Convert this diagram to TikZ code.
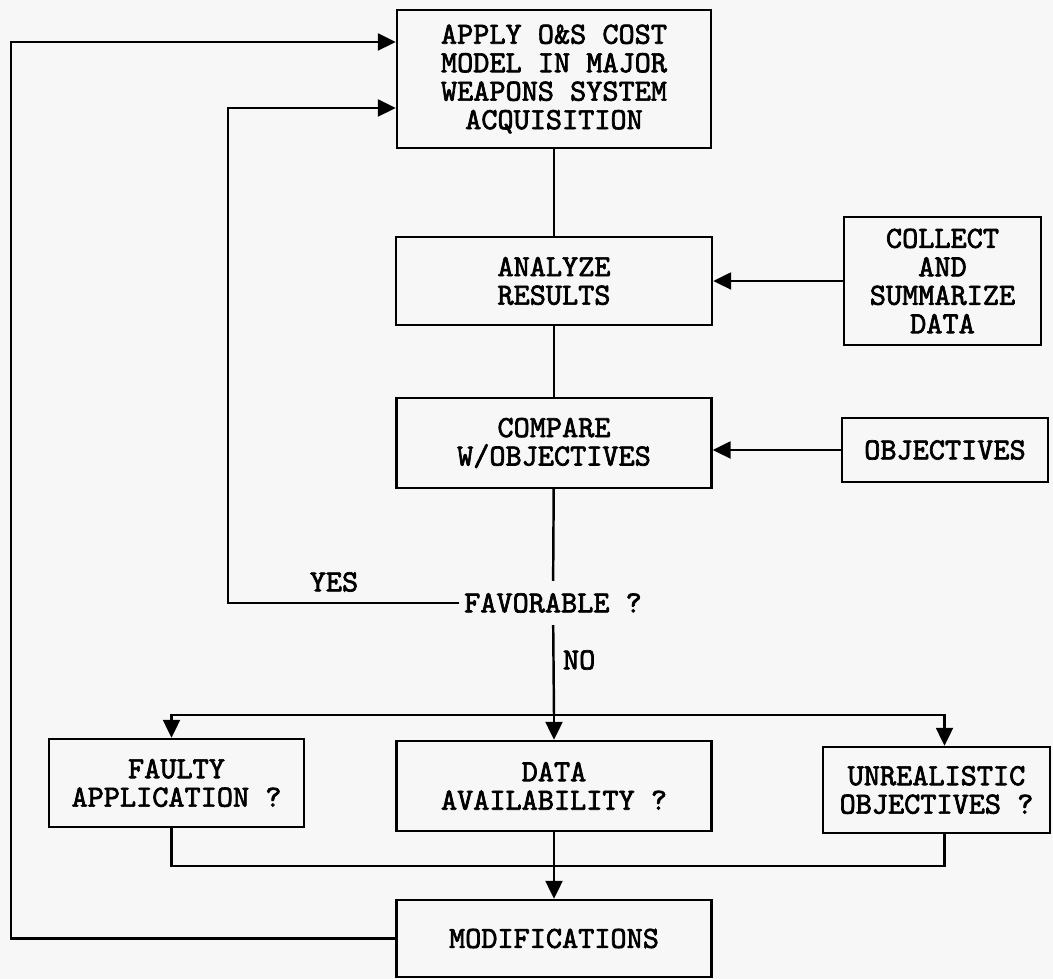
\documentclass[tikz,border=0pt]{standalone}
\usepackage{fontspec}
\setmonofont{lmmono10-regular.otf}[BoldFont=lmmono10-regular.otf,BoldFeatures={FakeBold=2.2}]
\usetikzlibrary{arrows.meta}
\begin{document}
\begin{tikzpicture}[>={Triangle[length=3.6mm,width=3.4mm]}, line width=1.4pt,
  every node/.style={font=\ttfamily\bfseries\fontsize{17.5}{16.2}\selectfont},
  box/.style={draw,align=center,inner sep=2pt}]
\fill[black!3] (0,0) rectangle (21.06,19.58);
\useasboundingbox (0,0) rectangle (21.06,19.58);
% main column
\node[box,minimum width=6.28cm,minimum height=2.76cm] (apply) at (11.08,18.00) {APPLY O\&S COST\\MODEL IN MAJOR\\WEAPONS SYSTEM\\ACQUISITION};
\node[box,minimum width=6.32cm,minimum height=1.76cm] (analyze) at (11.08,13.96) {ANALYZE\\RESULTS};
\node[box,minimum width=6.30cm,minimum height=1.80cm] (compare) at (11.08,10.72) {COMPARE\\W/OBJECTIVES};
\node[inner xsep=2pt,minimum height=0.84cm] (fav) at (11.06,7.52) {FAVORABLE ?};
% inputs on the right
\node[box,minimum width=3.94cm,minimum height=2.56cm] (collect) at (18.85,13.96) {COLLECT\\AND\\SUMMARIZE\\DATA};
\node[box,minimum width=4.12cm,minimum height=1.28cm] (obj) at (18.90,10.58) {OBJECTIVES};
% the three checks
\node[box,minimum width=5.10cm,minimum height=1.76cm] (faulty) at (3.53,3.92) {FAULTY\\APPLICATION ?};
\node[box,minimum width=6.30cm,minimum height=1.80cm] (avail) at (11.08,3.86) {DATA\\AVAILABILITY ?};
\node[box,minimum width=4.54cm,minimum height=1.72cm] (unreal) at (18.73,3.78) {UNREALISTIC\\OBJECTIVES ?};
\node[box,minimum width=6.30cm,minimum height=1.54cm] (mod) at (11.08,0.81) {MODIFICATIONS};
% corner points
\coordinate (split) at (11.08,5.28);
\coordinate (merge) at (11.08,2.26);
\coordinate (yesc) at (4.56,17.42);
\coordinate (outc) at (0.22,18.74);
\draw (apply)--(analyze);
\draw (analyze)--(compare);
\draw (compare)--(fav);
\draw[->] (collect.west)--(analyze.east);
\draw[->] (obj.west)--(obj.west -| compare.east);
\draw (fav)--(split);
\node[anchor=west,inner sep=1pt] (no) at (11.20,6.38) {NO};
\draw[->] (split)--(avail);
\draw[->] (split) -| ([xshift=-1mm]faulty.north);
\draw[->] (split) -| ([xshift=1.6mm]unreal.north);
\draw[->] (fav.west) -| (yesc) -- (yesc -| apply.west);
\node (yes) at (6.68,7.94) {YES};
\draw ([xshift=-1mm]faulty.south) |- (merge) -| ([xshift=1.6mm]unreal.south);
\draw[->] (avail)--(mod);
\draw[->] (mod.west) -| (outc) -- (outc -| apply.west);
\end{tikzpicture}
\end{document}
